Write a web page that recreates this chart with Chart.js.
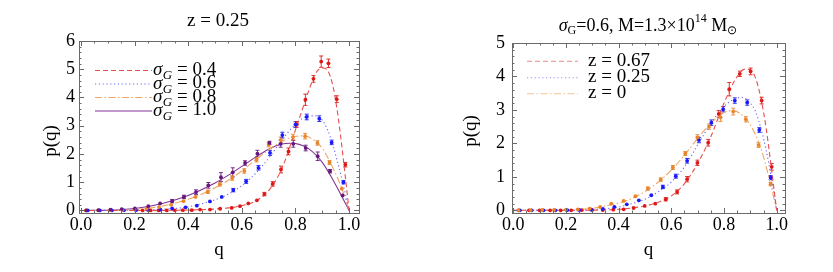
<!DOCTYPE html>
<html><head><meta charset="utf-8">
<script src="https://cdn.jsdelivr.net/npm/chart.js@4/dist/chart.umd.min.js"></script>
<style>
html,body{margin:0;padding:0;background:#fff;width:833px;height:272px;overflow:hidden}
#c1{position:absolute;left:0;top:0}
#c2{position:absolute;left:430px;top:0}
</style></head><body>
<canvas id="c1" width="430" height="272"></canvas>
<canvas id="c2" width="403" height="272"></canvas>
<script>
// ---------- tick labels ----------
const xTicks = [0, 0.2, 0.4, 0.6, 0.8, 1.0];
const yTicksLeft = [0, 1, 2, 3, 4, 5, 6];
const yTicksRight = [0, 1, 2, 3, 4, 5];

// ---------- left panel (z = 0.25) : sigma_G series ----------
const leftTitle = 'z = 0.25';
const sigmaLabels = ['0.4', '0.6', '0.8', '1.0'];

// sigma_G = 0.4 (red) points
const qRedL = [0.23, 0.26, 0.29, 0.32, 0.35, 0.38, 0.413, 0.444, 0.481, 0.519, 0.562, 0.593, 0.624, 0.656, 0.684, 0.715, 0.746, 0.774, 0.805, 0.837, 0.867, 0.896, 0.923, 0.954, 0.986];
const pRedL = [0, 0, 0, 0, 0.005, 0.01, 0.01, 0.03, 0.03, 0.06, 0.09, 0.15, 0.25, 0.36, 0.58, 0.94, 1.45, 2.09, 3.05, 3.92, 4.66, 5.27, 5.21, 3.94, 1.62];
const eRedL = [0, 0, 0, 0, 0, 0, 0.01, 0.01, 0.01, 0.02, 0.02, 0.03, 0.04, 0.05, 0.06, 0.08, 0.12, 0.12, 0.1, 0.2, 0.12, 0.2, 0.15, 0.12, 0.08];
// sigma_G = 0.4 model curve
const cqRedL = [0, 0.2, 0.3, 0.4, 0.45, 0.5, 0.55, 0.6, 0.65, 0.7, 0.75, 0.8, 0.85, 0.875, 0.9, 0.92, 0.94, 0.96, 0.98, 1.0];
const cpRedL = [0, 0, 0.003, 0.015, 0.03, 0.05, 0.09, 0.17, 0.33, 0.7, 1.5, 2.85, 4.25, 4.85, 5.05, 4.95, 4.4, 3.25, 1.7, 0];

// sigma_G = 0.6 (blue)
const qBlueL = [0.025, 0.07, 0.115, 0.16, 0.205, 0.25, 0.296, 0.34, 0.39, 0.432, 0.481, 0.525, 0.568, 0.616, 0.662, 0.705, 0.751, 0.80, 0.842, 0.889, 0.935, 0.979];
const pBlueL = [0, 0, 0, 0.005, 0.01, 0.02, 0.03, 0.07, 0.11, 0.17, 0.32, 0.48, 0.72, 1.03, 1.51, 2.04, 2.67, 3.04, 3.31, 3.25, 2.41, 1.0];
const eBlueL = [0, 0, 0, 0, 0.01, 0.01, 0.02, 0.02, 0.02, 0.03, 0.04, 0.05, 0.06, 0.07, 0.08, 0.09, 0.1, 0.1, 0.1, 0.1, 0.08, 0.06];
const cqBlueL = [0, 0.2, 0.3, 0.4, 0.5, 0.55, 0.6, 0.65, 0.7, 0.75, 0.8, 0.85, 0.88, 0.9, 0.92, 0.94, 0.96, 0.98, 1.0];
const cpBlueL = [0, 0.01, 0.04, 0.13, 0.38, 0.58, 0.88, 1.3, 1.85, 2.5, 3.05, 3.35, 3.35, 3.2, 2.85, 2.3, 1.6, 0.85, 0];

// sigma_G = 0.8 (orange)
const qOrL = [0.018, 0.064, 0.109, 0.155, 0.2, 0.245, 0.291, 0.336, 0.382, 0.427, 0.473, 0.518, 0.564, 0.609, 0.655, 0.70, 0.745, 0.791, 0.836, 0.882, 0.927, 0.973];
const pOrL = [0, 0.005, 0.01, 0.02, 0.04, 0.07, 0.12, 0.2, 0.33, 0.48, 0.66, 0.93, 1.15, 1.4, 1.8, 2.33, 2.5, 2.6, 2.63, 2.39, 1.7, 0.77];
const eOrL = [0, 0, 0, 0.01, 0.01, 0.02, 0.03, 0.03, 0.04, 0.05, 0.06, 0.07, 0.08, 0.08, 0.08, 0.08, 0.1, 0.1, 0.1, 0.08, 0.07, 0.05];
const cqOrL = [0, 0.1, 0.2, 0.3, 0.4, 0.5, 0.55, 0.6, 0.65, 0.7, 0.75, 0.8, 0.83, 0.86, 0.9, 0.94, 0.97, 1.0];
const cpOrL = [0, 0.005, 0.04, 0.15, 0.4, 0.8, 1.07, 1.4, 1.78, 2.15, 2.45, 2.62, 2.64, 2.55, 2.2, 1.5, 0.85, 0];

// sigma_G = 1.0 (purple)
const qPuL = [0.02, 0.065, 0.11, 0.152, 0.201, 0.251, 0.295, 0.34, 0.384, 0.429, 0.475, 0.522, 0.566, 0.612, 0.658, 0.703, 0.745, 0.792, 0.838, 0.883, 0.929, 0.976];
const pPuL = [0, 0.01, 0.03, 0.05, 0.07, 0.15, 0.25, 0.33, 0.48, 0.65, 0.89, 1.18, 1.35, 1.68, 2.01, 2.39, 2.36, 2.36, 2.21, 1.92, 1.39, 0.53];
const ePuL = [0, 0.01, 0.01, 0.02, 0.03, 0.04, 0.05, 0.06, 0.06, 0.08, 0.1, 0.16, 0.16, 0.08, 0.12, 0.06, 0.12, 0.12, 0.1, 0.15, 0.06, 0.05];
const cqPuL = [0, 0.1, 0.2, 0.3, 0.4, 0.5, 0.55, 0.6, 0.65, 0.7, 0.75, 0.78, 0.8, 0.85, 0.9, 0.94, 0.97, 1.0];
const cpPuL = [0, 0.01, 0.07, 0.24, 0.53, 0.97, 1.25, 1.56, 1.88, 2.17, 2.35, 2.38, 2.37, 2.18, 1.7, 1.08, 0.55, 0];

// ---------- right panel (sigma_G = 0.6, M = 1.3e14 Msun) : redshift series ----------
const zLabels = ['z = 0.67', 'z = 0.25', 'z = 0'];

// z = 0.67 (red)
const qRedR = [0.02, 0.06, 0.10, 0.14, 0.18, 0.22, 0.26, 0.30, 0.34, 0.38, 0.419, 0.457, 0.499, 0.539, 0.579, 0.622, 0.66, 0.699, 0.74, 0.78, 0.82, 0.86, 0.901, 0.943, 0.981];
const pRedR = [0, 0, 0, 0, 0, 0, 0.005, 0.01, 0.01, 0.02, 0.03, 0.07, 0.13, 0.2, 0.33, 0.55, 0.93, 1.42, 2.02, 2.88, 3.62, 4.08, 4.15, 3.28, 1.3];
const eRedR = [0, 0, 0, 0, 0, 0, 0, 0.01, 0.01, 0.01, 0.02, 0.02, 0.03, 0.04, 0.05, 0.06, 0.08, 0.08, 0.1, 0.1, 0.2, 0.08, 0.1, 0.1, 0.1];
const cqRedR = [0, 0.2, 0.3, 0.4, 0.45, 0.5, 0.55, 0.6, 0.65, 0.7, 0.75, 0.8, 0.85, 0.88, 0.9, 0.92, 0.94, 0.96, 0.98, 1.0];
const cpRedR = [0, 0, 0.005, 0.03, 0.07, 0.13, 0.24, 0.43, 0.8, 1.4, 2.2, 3.2, 4.0, 4.22, 4.2, 3.95, 3.35, 2.45, 1.25, 0];

// z = 0.25 (blue)
const qBlueR = [0.025, 0.07, 0.115, 0.16, 0.205, 0.25, 0.296, 0.34, 0.384, 0.431, 0.477, 0.524, 0.568, 0.617, 0.66, 0.705, 0.752, 0.797, 0.841, 0.888, 0.934, 0.977];
const pBlueR = [0, 0, 0, 0, 0.005, 0.01, 0.02, 0.04, 0.1, 0.18, 0.3, 0.45, 0.7, 1.02, 1.48, 2.1, 2.62, 3.02, 3.28, 3.22, 2.4, 0.98];
const eBlueR = [0, 0, 0, 0, 0, 0.01, 0.01, 0.02, 0.02, 0.03, 0.03, 0.04, 0.05, 0.06, 0.07, 0.08, 0.08, 0.08, 0.08, 0.08, 0.07, 0.06];
const cqBlueR = [0, 0.2, 0.3, 0.4, 0.45, 0.5, 0.55, 0.6, 0.65, 0.7, 0.75, 0.8, 0.84, 0.87, 0.9, 0.92, 0.94, 0.96, 0.98, 1.0];
const cpBlueR = [0, 0, 0.02, 0.1, 0.2, 0.33, 0.55, 0.85, 1.3, 1.95, 2.6, 3.1, 3.33, 3.37, 3.2, 2.95, 2.45, 1.8, 0.95, 0];

// z = 0 (orange)
const qOrR = [0.02, 0.066, 0.11, 0.155, 0.2, 0.245, 0.29, 0.33, 0.372, 0.419, 0.464, 0.511, 0.56, 0.606, 0.653, 0.699, 0.743, 0.787, 0.835, 0.883, 0.931, 0.977];
const pOrR = [0, 0.005, 0.01, 0.01, 0.02, 0.03, 0.05, 0.1, 0.2, 0.28, 0.42, 0.65, 0.92, 1.28, 1.7, 2.18, 2.5, 2.78, 2.95, 2.72, 1.95, 0.78];
const eOrR = [0, 0, 0, 0, 0.01, 0.01, 0.02, 0.02, 0.03, 0.03, 0.04, 0.05, 0.05, 0.06, 0.06, 0.08, 0.08, 0.12, 0.1, 0.08, 0.07, 0.05];
const cqOrR = [0, 0.2, 0.3, 0.35, 0.4, 0.45, 0.5, 0.55, 0.6, 0.65, 0.7, 0.75, 0.8, 0.83, 0.86, 0.9, 0.94, 0.97, 1.0];
const cpOrR = [0, 0.01, 0.06, 0.13, 0.22, 0.35, 0.56, 0.84, 1.2, 1.65, 2.15, 2.6, 2.92, 2.98, 2.9, 2.55, 1.85, 1.0, 0];

// ---------- styling ----------
const FONT = "'Liberation Serif', 'Times New Roman', serif";
const COL = {
  red:    {pt: 'rgb(222,24,24)',  ln: 'rgb(232,80,80)'},
  blue:   {pt: 'rgb(25,25,250)',  ln: 'rgb(105,105,250)'},
  orange: {pt: 'rgb(232,132,42)', ln: 'rgb(240,165,100)'},
  purple: {pt: 'rgb(100,22,125)', ln: 'rgb(128,52,150)'}
};
const DASH = {red: [5, 3], blue: [1.2, 2.6], orange: [7, 2.5, 1.5, 2.5], purple: []};

function pts(q, p) { return q.map((v, i) => ({x: v, y: p[i]})); }
function pointDs(q, p, e, c) {
  return {type: 'scatter', data: pts(q, p), err: e, backgroundColor: c, borderColor: c,
          pointRadius: 1.9, pointBorderWidth: 0, pointHoverRadius: 1.9, showLine: false, order: 0};
}
function curveDs(q, p, c, dash) {
  return {type: 'line', data: pts(q, p), borderColor: c, borderDash: dash, borderWidth: 1.1,
          pointRadius: 0, fill: false, cubicInterpolationMode: 'monotone', order: 1};
}

function drawSigmaG(ctx, x, y, tail, size) {
  ctx.textBaseline = 'middle'; ctx.textAlign = 'left';
  ctx.font = 'italic ' + size + 'px ' + FONT; ctx.fillText('σ', x, y); x += ctx.measureText('σ').width + 0.5;
  const s2 = Math.round(size * 0.68);
  ctx.font = 'italic ' + s2 + 'px ' + FONT; ctx.fillText('G', x, y + size * 0.3); x += ctx.measureText('G').width;
  ctx.font = size + 'px ' + FONT; ctx.fillText(tail, x, y); x += ctx.measureText(tail).width;
  return x;
}

function makeDecor(o) {
  return {
    id: 'decor',
    beforeDatasetsDraw(chart) {
      const ctx = chart.ctx, xs = chart.scales.x, ys = chart.scales.y;
      chart.data.datasets.forEach((ds) => {
        if (!ds.err) return;
        ctx.save(); ctx.strokeStyle = ds.borderColor; ctx.lineWidth = 0.9;
        ds.data.forEach((pt, j) => {
          const e = ds.err[j];
          if (!e) return;
          const x = xs.getPixelForValue(pt.x);
          const y1 = ys.getPixelForValue(pt.y - e), y2 = ys.getPixelForValue(pt.y + e);
          if (Math.abs(y1 - y2) < 3) return;
          ctx.beginPath();
          ctx.moveTo(x, y1); ctx.lineTo(x, y2);
          ctx.moveTo(x - 2, y1); ctx.lineTo(x + 2, y1);
          ctx.moveTo(x - 2, y2); ctx.lineTo(x + 2, y2);
          ctx.stroke();
        });
        ctx.restore();
      });
    },
    afterDraw(chart) {
      const ctx = chart.ctx, xs = chart.scales.x, ys = chart.scales.y, a = chart.chartArea;
      ctx.save();
      // frame
      ctx.strokeStyle = '#6a6a6a'; ctx.lineWidth = 1;
      ctx.strokeRect(Math.round(a.left) + 0.5, Math.round(a.top) + 0.5, Math.round(a.right - a.left), Math.round(a.bottom - a.top));
      // inward ticks on all sides
      ctx.beginPath();
      for (let k = 0; k <= 21; k++) {
        const v = k * 0.05; if (v < xs.min || v > xs.max) continue;
        const len = (k % 4 === 0) ? 5 : 2.5;
        const x = Math.round(xs.getPixelForValue(v)) + 0.5;
        ctx.moveTo(x, a.bottom); ctx.lineTo(x, a.bottom - len);
        ctx.moveTo(x, a.top); ctx.lineTo(x, a.top + len);
      }
      for (let k = 0; k <= o.ymax * 5; k++) {
        const v = k * 0.2;
        const len = (k % 5 === 0) ? 5 : 2.5;
        const y = Math.round(ys.getPixelForValue(v)) + 0.5;
        ctx.moveTo(a.left, y); ctx.lineTo(a.left + len, y);
        ctx.moveTo(a.right, y); ctx.lineTo(a.right - len, y);
      }
      ctx.stroke();

      // y-axis label p(q)
      ctx.fillStyle = '#000';
      ctx.save();
      ctx.translate(o.ylab[0], o.ylab[1]); ctx.rotate(-Math.PI / 2);
      ctx.font = '19px ' + FONT; ctx.textAlign = 'center'; ctx.textBaseline = 'middle';
      ctx.fillText('p(q)', 0, 0);
      ctx.restore();

      // title
      o.drawTitle(ctx);

      // legend
      o.legend.forEach((ent, i) => {
        const ds = chart.data.datasets[ent.ds];
        const y = o.legY[i];
        ctx.save();
        ctx.strokeStyle = ent.color || ds.borderColor; ctx.lineWidth = 1.1; ctx.setLineDash(ds.borderDash || []);
        ctx.beginPath(); ctx.moveTo(o.legX[0], y + 0.5); ctx.lineTo(o.legX[1], y + 0.5); ctx.stroke();
        ctx.restore();
        ctx.fillStyle = '#000';
        ent.draw(ctx, o.legX[2], y);
      });
      ctx.restore();
    }
  };
}

function axes(xmin, xmax, ymin, ymax, yTicks, yw, ypad) {
  return {
    x: {type: 'linear', min: xmin, max: xmax, offset: false,
        grid: {display: false, drawTicks: false}, border: {display: false},
        afterBuildTicks: s => { s.ticks = xTicks.map(v => ({value: v})); },
        afterFit: s => { s.height = 59; },
        ticks: {font: {family: FONT, size: 18}, color: '#000', padding: 1, maxRotation: 0, autoSkip: false,
                callback: v => Number(v).toFixed(1)},
        title: {display: true, text: 'q', font: {family: FONT, size: 19}, color: '#000', padding: {top: 0, bottom: 11}}},
    y: {type: 'linear', min: ymin, max: ymax,
        grid: {display: false, drawTicks: false}, border: {display: false},
        afterBuildTicks: s => { s.ticks = yTicks.map(v => ({value: v})); },
        afterFit: s => { s.width = yw; },
        ticks: {font: {family: FONT, size: 18}, color: '#000', padding: ypad, autoSkip: false,
                callback: v => String(v)}}
  };
}

// ---------- left chart ----------
new Chart(document.getElementById('c1'), {
  type: 'scatter',
  data: {datasets: [
    pointDs(qPuL, pPuL, ePuL, COL.purple.pt),
    pointDs(qOrL, pOrL, eOrL, COL.orange.pt),
    pointDs(qBlueL, pBlueL, eBlueL, COL.blue.pt),
    pointDs(qRedL, pRedL, eRedL, COL.red.pt),
    curveDs(cqRedL, cpRedL, COL.red.ln, DASH.red),
    curveDs(cqBlueL, cpBlueL, COL.blue.ln, DASH.blue),
    curveDs(cqOrL, cpOrL, COL.orange.ln, DASH.orange),
    curveDs(cqPuL, cpPuL, COL.purple.ln, DASH.purple)
  ]},
  options: {
    responsive: false, animation: false, devicePixelRatio: 1,
    layout: {padding: {left: 0, top: 41, right: 71, bottom: 0}},
    plugins: {legend: {display: false}, title: {display: false}, tooltip: {enabled: false}},
    scales: axes(-0.0075, 1.037, -0.09, 6, yTicksLeft, 79, 4)
  },
  plugins: [makeDecor({
    ymax: 6, ylab: [51, 141],
    drawTitle(ctx) {
      ctx.font = '19px ' + FONT; ctx.textAlign = 'center'; ctx.textBaseline = 'middle';
      ctx.fillText(leftTitle, 218, 21);
    },
    legX: [95, 152, 153], legY: [70, 83.5, 97, 110.5],
    legend: sigmaLabels.map((s, i) => ({ds: 4 + i, draw: (ctx, x, y) => drawSigmaG(ctx, x, y, ' = ' + s, 19)}))
  })]
});

// ---------- right chart ----------
const legFade = ['rgb(240,135,135)', 'rgb(145,145,250)', 'rgb(245,195,150)'];
new Chart(document.getElementById('c2'), {
  type: 'scatter',
  data: {datasets: [
    pointDs(qOrR, pOrR, eOrR, COL.orange.pt),
    pointDs(qBlueR, pBlueR, eBlueR, COL.blue.pt),
    pointDs(qRedR, pRedR, eRedR, COL.red.pt),
    curveDs(cqRedR, cpRedR, COL.red.ln, DASH.red),
    curveDs(cqBlueR, cpBlueR, COL.blue.ln, DASH.blue),
    curveDs(cqOrR, cpOrR, COL.orange.ln, DASH.orange)
  ]},
  options: {
    responsive: false, animation: false, devicePixelRatio: 1,
    layout: {padding: {left: 0, top: 43, right: 48, bottom: 0}},
    plugins: {legend: {display: false}, title: {display: false}, tooltip: {enabled: false}},
    scales: axes(-0.0046, 1.0315, -0.08, 5, yTicksRight, 82, 7)
  },
  plugins: [makeDecor({
    ymax: 5, ylab: [41, 131],
    drawTitle(ctx) {
      // σ_G=0.6, M=1.3×10^14 M_⊙
      const parts = [
        {t: 'σ', f: 'italic 18px ' + FONT, dy: 0},
        {t: 'G', f: '12px ' + FONT, dy: 5},
        {t: '=0.6, M=1.3×10', f: '18px ' + FONT, dy: 0},
        {t: '14', f: '12px ' + FONT, dy: -7},
        {t: ' M', f: '18px ' + FONT, dy: 0},
        {t: '⊙', f: '12px ' + FONT, dy: 5}
      ];
      ctx.textBaseline = 'middle'; ctx.textAlign = 'left';
      let w = 0;
      parts.forEach(p => { ctx.font = p.f; w += ctx.measureText(p.t).width; });
      let x = 218 - w / 2;
      parts.forEach(p => { ctx.font = p.f; ctx.fillText(p.t, x, 26 + p.dy); x += ctx.measureText(p.t).width; });
    },
    legX: [97, 148, 158], legY: [60.7, 77.3, 93.3],
    legend: zLabels.map((s, i) => ({ds: 3 + i, color: legFade[i], draw: (ctx, x, y) => {
      ctx.font = '19px ' + FONT; ctx.textAlign = 'left'; ctx.textBaseline = 'middle'; ctx.fillText(s, x, y);
    }}))
  })]
});
</script>
</body></html>
